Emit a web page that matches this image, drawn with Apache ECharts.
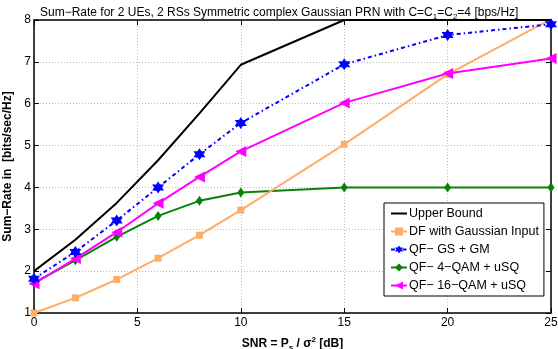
<!DOCTYPE html>
<html>
<head>
<meta charset="utf-8">
<script src="https://cdn.jsdelivr.net/npm/echarts@6/dist/echarts.min.js"></script>
<style>
  html, body { margin: 0; padding: 0; background: #fff; }
  #chart { width: 558px; height: 349px; }
</style>
</head>
<body>
<div id="chart"></div>
<script>
// SNR points (dB)
const snr = [0, 2, 4, 6, 8, 10, 15, 20, 25];

// sum-rate values
const upperBound = [2.0, 2.75, 3.63, 4.65, 5.77, 6.93, 8.0, 8.0, 8.0];
const dfGauss    = [1.0, 1.36, 1.80, 2.31, 2.86, 3.46, 5.03, 6.70, 8.02];
const qfGsGm     = [1.82, 2.46, 3.21, 4.0, 4.79, 5.54, 6.94, 7.64, 7.90];
const qf4qam     = [1.72, 2.26, 2.82, 3.32, 3.68, 3.88, 4.0, 4.0, 4.0];
const qf16qam    = [1.70, 2.30, 2.93, 3.62, 4.25, 4.86, 6.02, 6.72, 7.08];

const xTicks = [0, 5, 10, 15, 20, 25];
const yTicks = [1, 2, 3, 4, 5, 6, 7, 8];

const FONT = 'Liberation Sans';
const hexagram = 'path://M0,-10 L2.887,-5 L8.66,-5 L5.774,0 L8.66,5 L2.887,5 L0,10 L-2.887,5 L-8.66,5 L-5.774,0 L-8.66,-5 L-2.887,-5 Z';

function pairs(ys) {
  return snr.map((x, i) => [x, ys[i]]);
}

function frameAxis(pos, isX) {
  return {
    type: 'value',
    position: pos,
    min: isX ? xTicks[0] : yTicks[0],
    max: isX ? xTicks[xTicks.length - 1] : yTicks[yTicks.length - 1],
    interval: isX ? 5 : 1,
    axisLine: { show: true, onZero: false, lineStyle: { color: '#000', width: 1.5 } },
    axisTick: { show: true, inside: true, length: 5, lineStyle: { color: '#000' } },
    axisLabel: { show: false },
    splitLine: { show: false }
  };
}

const chart = echarts.init(document.getElementById('chart'));

chart.setOption({
  animation: false,
  backgroundColor: '#fff',
  textStyle: { fontFamily: FONT },
  title: {
    text: 'Sum\u2212Rate for 2 UEs, 2 RSs Symmetric complex Gaussian PRN with C=C{s|1}=C{s|2}=4 [bps/Hz]',
    left: 35,
    top: 0,
    textStyle: {
      fontFamily: FONT,
      fontSize: 12,
      fontWeight: 'normal',
      color: '#000',
      lineHeight: 16,
      rich: {
        s: { fontSize: 8, fontFamily: FONT, verticalAlign: 'bottom', lineHeight: 10 }
      }
    }
  },
  grid: { left: 34, right: 7, top: 20, bottom: 36, containLabel: false, outerBoundsMode: 'none' },
  xAxis: [
    {
      type: 'value',
      min: 0, max: 25, interval: 5,
      name: 'SNR = P{s|s} / \u03c3{p|2} [dB]',
      nameLocation: 'middle',
      nameGap: 23,
      nameTextStyle: {
        fontFamily: FONT, fontSize: 12, fontWeight: 'bold', color: '#000', lineHeight: 16,
        rich: {
          s: { fontSize: 8, fontWeight: 'bold', fontFamily: FONT, verticalAlign: 'bottom', lineHeight: 10 },
          p: { fontSize: 8, fontWeight: 'bold', fontFamily: FONT, verticalAlign: 'top', lineHeight: 10 }
        }
      },
      axisLine: { show: true, onZero: false, lineStyle: { color: '#000', width: 1.5 } },
      axisTick: { show: true, inside: true, length: 5, lineStyle: { color: '#000' } },
      axisLabel: { color: '#000', fontSize: 12, fontFamily: FONT, margin: 4 },
      splitLine: { show: true, lineStyle: { color: '#bdbdbd', type: [1, 2], width: 1 } }
    },
    frameAxis('top', true)
  ],
  yAxis: [
    {
      type: 'value',
      min: 1, max: 8, interval: 1,
      name: 'Sum\u2212Rate in  [bits/sec/Hz]',
      nameLocation: 'middle',
      nameGap: 14,
      nameTextStyle: { fontFamily: FONT, fontSize: 12, fontWeight: 'bold', color: '#000' },
      axisLine: { show: true, onZero: false, lineStyle: { color: '#000', width: 1.5 } },
      axisTick: { show: true, inside: true, length: 5, lineStyle: { color: '#000' } },
      axisLabel: { color: '#000', fontSize: 12, fontFamily: FONT, margin: 3 },
      splitLine: { show: true, lineStyle: { color: '#bdbdbd', type: [1, 2], width: 1 } }
    },
    frameAxis('right', false)
  ],
  legend: {
    orient: 'vertical',
    left: 384,
    top: 203,
    backgroundColor: '#fff',
    borderColor: '#000',
    borderWidth: 1,
    borderRadius: 0,
    padding: [4, 5, 4, 6],
    itemWidth: 16,
    itemHeight: 10,
    itemGap: 5,
    textStyle: { fontFamily: FONT, fontSize: 12.5, color: '#000', padding: [0, 0, 0, -3] },
    data: [
      { name: 'Upper Bound', itemStyle: { opacity: 0 } },
      'DF with Gaussian Input',
      'QF\u2212 GS + GM',
      'QF\u2212 4\u2212QAM + uSQ',
      'QF\u2212 16\u2212QAM + uSQ'
    ]
  },
  series: [
    {
      name: 'Upper Bound', type: 'line', data: pairs(upperBound),
      symbol: 'none',
      lineStyle: { color: '#000', width: 2 }, itemStyle: { color: '#000' }, z: 5
    },
    {
      name: 'DF with Gaussian Input', type: 'line', data: pairs(dfGauss),
      symbol: 'rect', symbolSize: 7,
      lineStyle: { color: '#ffad66', width: 2 }, itemStyle: { color: '#ffad66' }, z: 4
    },
    {
      name: 'QF\u2212 GS + GM', type: 'line', data: pairs(qfGsGm),
      symbol: hexagram, symbolSize: 12,
      lineStyle: { color: '#0000ff', width: 2, type: [4, 3, 1.5, 3] }, itemStyle: { color: '#0000ff' }, z: 6
    },
    {
      name: 'QF\u2212 4\u2212QAM + uSQ', type: 'line', data: pairs(qf4qam),
      symbol: 'diamond', symbolSize: [7, 10],
      lineStyle: { color: '#0a800a', width: 2 }, itemStyle: { color: '#0a800a' }, z: 3
    },
    {
      name: 'QF\u2212 16\u2212QAM + uSQ', type: 'line', data: pairs(qf16qam),
      symbol: 'triangle', symbolRotate: 90, symbolSize: 11,
      lineStyle: { color: '#ff00ff', width: 2 }, itemStyle: { color: '#ff00ff' }, z: 4
    }
  ]
});
</script>
</body>
</html>
